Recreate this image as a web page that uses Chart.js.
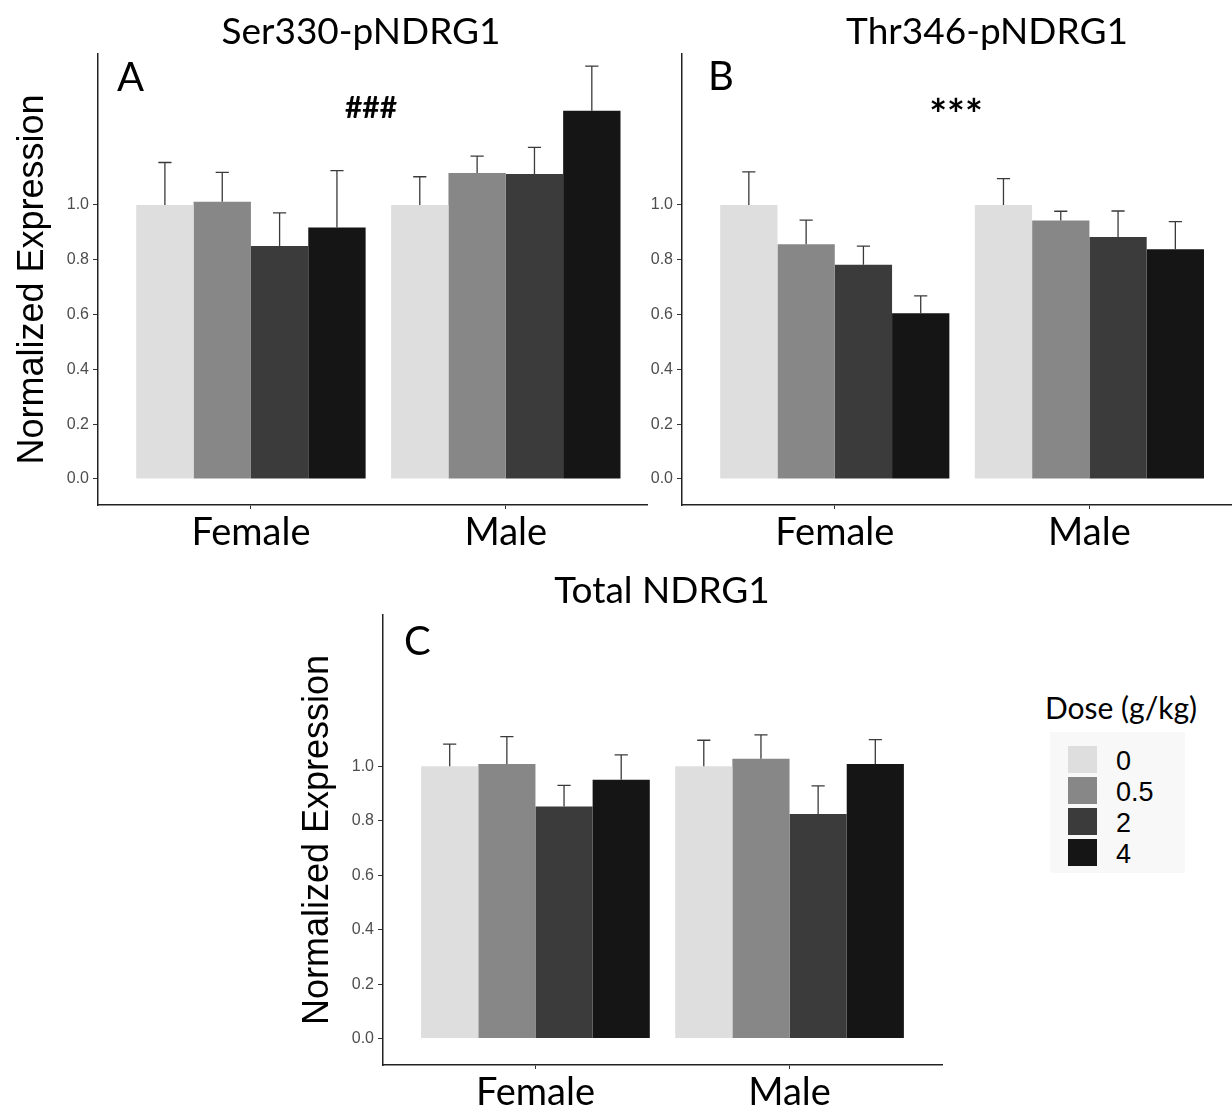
<!DOCTYPE html>
<html>
<head>
<meta charset="utf-8">
<script src="https://cdn.jsdelivr.net/npm/chart.js@4.4.0/dist/chart.umd.min.js"></script>
<style>
  body { margin: 0; width: 1232px; height: 1107px; background: #fff; position: relative; overflow: hidden; font-family: Lato, sans-serif; }
  canvas { position: absolute; }
  .lbl { position: absolute; line-height: 1; white-space: nowrap; color: #000; }
  .ctr { transform: translateX(-50%); }
  .sw { position: absolute; left: 1068px; width: 29px; height: 27px; }
  .lg { position: absolute; left: 1116px; line-height: 1; font-family: "Liberation Sans", Arial, sans-serif; font-size: 27px; color: #000; }
</style>
</head>
<body>
<canvas id="chartA" width="650" height="565" style="left:0;top:0"></canvas>
<canvas id="chartB" width="642" height="565" style="left:590px;top:0"></canvas>
<canvas id="chartC" width="660" height="542" style="left:290px;top:565px"></canvas>

<div class="lbl ctr" style="left:361px;top:11px;font-size:37px">Ser330-pNDRG1</div>
<div class="lbl ctr" style="left:987px;top:11px;font-size:37px">Thr346-pNDRG1</div>
<div class="lbl ctr" style="left:662px;top:570px;font-size:37px">Total NDRG1</div>

<div class="lbl" style="left:117px;top:56px;font-size:40px">A</div>
<div class="lbl" style="left:708px;top:55px;font-size:40px">B</div>
<div class="lbl" style="left:404px;top:620px;font-size:40px">C</div>

<div class="lbl ctr" style="left:371px;top:91px;font-size:30px;font-weight:bold">###</div>
<div class="lbl ctr" style="left:956px;top:93px;font-size:42px;font-weight:bold">***</div>

<div class="lbl ctr" style="left:1121px;top:692px;font-size:30px">Dose (g/kg)</div>
<div style="position:absolute;left:1050px;top:732px;width:135px;height:141px;background:#f8f8f8"></div>
<div id="legend"></div>

<script>
const sexes = ['Female', 'Male'];
const doses = ['0', '0.5', '2', '4'];
const doseColors = ['#dedede', '#878787', '#3b3b3b', '#151515'];
const yTicks = [0, 0.2, 0.4, 0.6, 0.8, 1.0];

// Ser330-pNDRG1 (means and SE, by dose)
const serFemale = [1.00, 1.012, 0.850, 0.918];
const serMale = [1.00, 1.117, 1.113, 1.344];
const serFemaleErr = [0.155, 0.107, 0.121, 0.207];
const serMaleErr = [0.103, 0.061, 0.097, 0.163];

// Thr346-pNDRG1
const thrFemale = [1.00, 0.857, 0.782, 0.605];
const thrMale = [1.00, 0.943, 0.883, 0.838];
const thrFemaleErr = [0.121, 0.088, 0.068, 0.063];
const thrMaleErr = [0.096, 0.034, 0.095, 0.101];

// Total NDRG1
const totFemale = [1.00, 1.009, 0.853, 0.951];
const totMale = [1.00, 1.028, 0.825, 1.009];
const totFemaleErr = [0.082, 0.100, 0.077, 0.091];
const totMaleErr = [0.096, 0.088, 0.103, 0.089];

// upper error bars with a small cap
const errorBars = {
  id: 'errorBars',
  afterDatasetsDraw(chart) {
    const ctx = chart.ctx;
    const yScale = chart.scales.y;
    ctx.save();
    ctx.strokeStyle = '#3a3a3a';
    ctx.lineWidth = 1.3;
    chart.data.datasets.forEach((ds, i) => {
      chart.getDatasetMeta(i).data.forEach((bar, j) => {
        const top = yScale.getPixelForValue(ds.data[j].y + ds.err[j]);
        const half = bar.width * 0.115;
        ctx.beginPath();
        ctx.moveTo(bar.x, bar.y);
        ctx.lineTo(bar.x, top);
        ctx.moveTo(bar.x - half, top);
        ctx.lineTo(bar.x + half, top);
        ctx.stroke();
      });
    });
    ctx.restore();
  }
};

function makeChart(id, female, male, femaleErr, maleErr, o) {
  const datasets = doses.map((d, k) => ({
    label: d,
    data: [{ x: 1, y: female[k] }, { x: 2, y: male[k] }],
    err: [femaleErr[k], maleErr[k]],
    backgroundColor: doseColors[k],
    borderWidth: 0,
    barPercentage: 1,
    categoryPercentage: 0.9
  }));

  return new Chart(document.getElementById(id), {
    type: 'bar',
    data: { datasets },
    options: {
      responsive: false,
      animation: false,
      layout: { padding: o.padding },
      plugins: { legend: { display: false }, tooltip: { enabled: false } },
      scales: {
        x: {
          type: 'linear',
          min: 0.4,
          max: o.xMax,
          offset: false,
          afterBuildTicks: s => { s.ticks = sexes.map((_, i) => ({ value: i + 1 })); },
          afterFit: s => { s.height = o.xHeight; },
          ticks: {
            callback: v => sexes[v - 1],
            font: { family: 'Lato', size: 38 },
            color: '#000',
            padding: 1,
            maxRotation: 0,
            autoSkip: false
          },
          grid: { offset: false, drawOnChartArea: false, drawTicks: true, tickLength: 4, color: '#333' },
          border: { display: true, color: '#222', width: 1.5 }
        },
        y: {
          min: o.yMin,
          max: o.yMax,
          afterBuildTicks: s => { s.ticks = yTicks.map(v => ({ value: v })); },
          afterFit: s => { s.width = o.yWidth; },
          ticks: {
            callback: v => v.toFixed(1),
            font: { family: 'Liberation Sans', size: 16 },
            color: '#4d4d4d',
            padding: 4
          },
          grid: { drawOnChartArea: false, drawTicks: true, tickLength: 5, color: '#333' },
          border: { display: true, color: '#222', width: 1.5 },
          title: {
            display: o.yTitle,
            text: 'Normalized Expression',
            font: { family: 'Liberation Sans', size: 36, lineHeight: 1 },
            color: '#000',
            padding: { top: o.titlePad, bottom: 0 }
          }
        }
      }
    },
    plugins: [errorBars]
  });
}

makeChart('chartA', serFemale, serMale, serFemaleErr, serMaleErr, {
  padding: { left: 0, top: 54, right: 3, bottom: 10 },
  xMax: 2.554, xHeight: 50, yWidth: 98, yMin: -0.095, yMax: 1.551, yTitle: true, titlePad: 15
});
makeChart('chartB', thrFemale, thrMale, thrFemaleErr, thrMaleErr, {
  padding: { left: 0, top: 54, right: 0, bottom: 10 },
  xMax: 2.56, xHeight: 50, yWidth: 92, yMin: -0.095, yMax: 1.551, yTitle: false, titlePad: 0
});
makeChart('chartC', totFemale, totMale, totFemaleErr, totMaleErr, {
  padding: { left: 0, top: 50, right: 8, bottom: 2 },
  xMax: 2.6, xHeight: 40, yWidth: 93, yMin: -0.097, yMax: 1.556, yTitle: true, titlePad: 10
});

// legend keys
const legend = document.getElementById('legend');
doses.forEach((d, k) => {
  const top = 746 + k * 31;
  const sw = document.createElement('div');
  sw.className = 'sw';
  sw.style.top = top + 'px';
  sw.style.background = doseColors[k];
  legend.appendChild(sw);
  const t = document.createElement('div');
  t.className = 'lg';
  t.style.top = (top + 2) + 'px';
  t.textContent = d;
  legend.appendChild(t);
});
</script>
</body>
</html>
